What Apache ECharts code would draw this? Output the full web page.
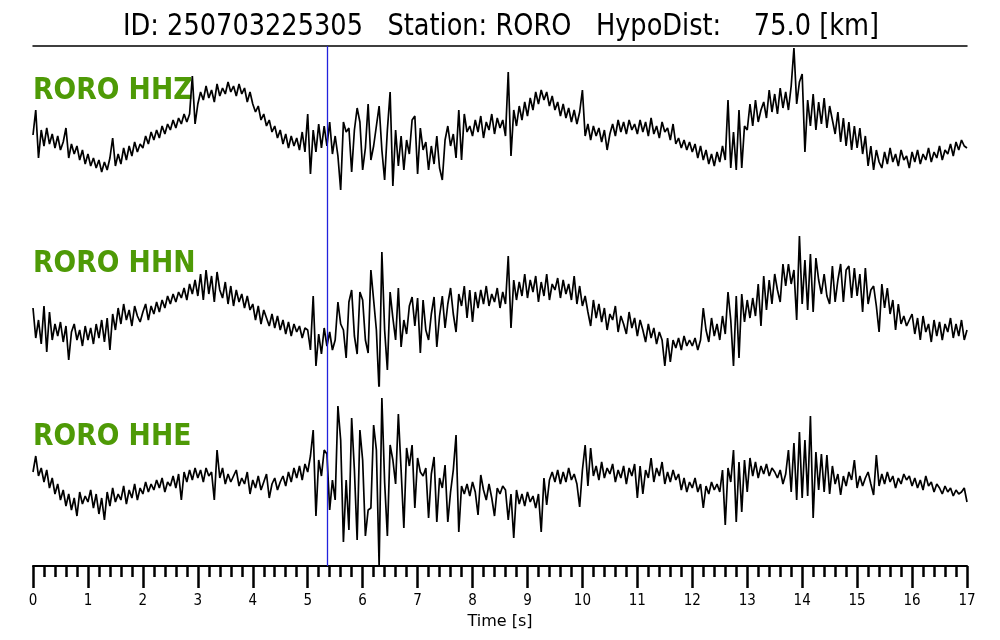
<!DOCTYPE html>
<html>
<head>
<meta charset="utf-8">
<script src="https://cdn.jsdelivr.net/npm/echarts@6/dist/echarts.min.js"></script>
<style>html,body{margin:0;padding:0;background:#fff}#c{width:1000px;height:640px}</style>
</head>
<body>
<div id="c"></div>
<script>
// Sampling interval of the traces [s]
var DT = 0.05;
var T_MAX = 17;
var P_PICK = 5.35;
var TITLE = 'ID: 250703225305   Station: RORO   HypoDist:    75.0 [km]';
var CHANNELS = ['RORO HHZ', 'RORO HHN', 'RORO HHE'];
var TICKS = [0,1,2,3,4,5,6,7,8,9,10,11,12,13,14,15,16,17];

// HHZ amplitudes (arbitrary units), one row per second
var hhz = [].concat(
[5, 30, -18, 10, -6, 12, -4, 6, -8, 4, -10, -2, 12, -18, -4, -14, -6, -20, -10, -24],
[-14, -26, -18, -28, -20, -32, -22, -30, -18, 2, -26, -14, -24, -8, -20, -6, -16, -2, -12, -4],
[-8, 4, -4, 8, 0, 10, 2, 14, 6, 16, 10, 20, 12, 22, 16, 26, 18, 26, 64, 16],
[36, 48, 40, 54, 42, 50, 38, 56, 44, 52, 46, 58, 48, 54, 44, 56, 46, 52, 38, 48],
[36, 28, 34, 20, 26, 14, 20, 8, 14, 2, 10, -4, 6, -8, 4, -6, 2, -10, 8, -12],
[26, -34, 10, -12, 16, -8, 14, -6, 18, -14, 4, -16, -50, 18, 8, 12, -32, 10, 32, 18],
[-30, -8, 36, -20, -6, 14, 34, -10, -40, 10, 48, -46, 10, -26, 4, -30, 0, -14, 20, 24],
[-34, 12, -10, -2, -30, -6, -24, 4, -28, -40, 0, 14, -6, 6, -18, 30, -20, 26, 8, 14],
[4, 20, 8, 24, 2, 18, 10, 26, 6, 22, 12, 20, 4, 68, -16, 30, 14, 34, 20, 38],
[24, 42, 30, 48, 36, 50, 40, 48, 34, 44, 30, 38, 24, 36, 22, 32, 18, 30, 16, 28],
[50, 4, 16, 0, 14, 4, 12, -2, 10, -10, 6, 16, 4, 20, 8, 18, 6, 20, 10, 16],
[6, 20, 8, 18, 4, 22, 6, 14, 2, 18, 8, 12, 0, 16, -4, 2, -8, 0, -10, -2],
[-12, -4, -18, -6, -20, -10, -24, -14, -26, -12, -22, -6, -20, 40, -28, 8, -30, 30, -28, 14],
[10, 36, 14, 40, 18, 30, 38, 22, 50, 28, 46, 26, 52, 32, 48, 30, 54, 92, 36, 58],
[66, -12, 40, 14, 46, 10, 38, 16, 42, 12, 34, 20, 6, 28, -2, 22, -6, 18, -10, 14],
[-8, 12, -14, 4, -26, -6, -30, -10, -22, -28, -12, -24, -8, -22, -14, -26, -10, -20, -16, -28],
[-12, -22, -10, -24, -14, -20, -8, -22, -12, -18, -6, -20, -10, -14, -4, -16, -2, -10, 0, -6, -8]
);

// HHN amplitudes
var hhn = [].concat(
[2, -28, -10, -34, 4, -42, -2, -30, -14, -26, -12, -32, -16, -50, -22, -14, -30, -20, -36, -16],
[-30, -18, -34, -14, -28, -10, -32, -8, -40, -4, -20, 2, -14, 6, -10, 0, -16, 4, -6, -12],
[-2, 6, -10, 4, -4, 8, -2, 10, 2, 14, 6, 16, 8, 18, 12, 22, 10, 26, 16, 30],
[14, 36, 10, 40, 16, 34, 8, 38, 20, 12, 28, 6, 24, 4, 20, 8, 16, 2, 14, 0],
[6, -10, 4, -14, 0, -8, -16, -4, -18, -6, -20, -10, -24, -12, -26, -14, -22, -16, -28, -18],
[-20, -40, 14, -56, -24, -44, -18, -36, -22, -40, -30, 8, -14, -20, -48, 8, 20, -26, -44, 18],
[10, -30, -43, 40, 10, -20, -82, 58, -20, -60, 18, -8, -30, 22, -37, -10, -24, 4, 13, -16],
[12, -43, 10, -20, -30, -4, 13, -37, -6, 14, -18, 6, 22, -4, -22, 16, 4, 24, -8, 20],
[-12, 18, 2, 20, 6, 24, 4, 16, 8, 22, 2, 18, 6, 54, -18, 30, 10, 28, 14, 36],
[12, 30, 18, 34, 8, 28, 14, 36, 10, 26, 20, 32, 12, 30, 16, 26, 10, 34, 6, 24],
[4, 14, -2, -16, 10, -8, 6, -12, 2, -20, -4, -10, 4, -22, -6, -14, -24, -2, -18, -8],
[-26, -10, -20, -32, -14, -28, -18, -34, -22, -30, -56, -28, -52, -30, -38, -28, -40, -26, -36, -30],
[-36, -28, -40, -30, 2, -20, -32, -8, -26, -14, -30, -6, -24, 18, -10, -56, 14, -48, 16, -12],
[10, -8, 12, -6, 26, -16, 34, 0, 30, 6, 36, 20, 8, 46, 24, 46, 26, 40, -10, 74],
[6, 50, 0, 56, -2, 52, 30, 16, 36, 14, 6, 44, 8, 30, 46, 8, 40, 44, 12, 42],
[14, 36, -2, 42, 6, 20, 24, 4, -22, 26, 2, 22, -4, 10, -20, 6, -14, -6, -16, -10],
[-4, -24, -8, -30, -6, -22, -14, -32, -10, -26, -12, -30, -14, -22, -8, -28, -14, -26, -10, -30, -20]
);

// HHE amplitudes
var hhe = [].concat(
[8, 24, 4, 12, -2, 10, -8, 2, -14, -4, -20, -10, -26, -14, -30, -18, -36, -12, -24, -16],
[-22, -10, -28, -14, -34, -18, -40, -12, -26, -8, -22, -14, -20, -6, -24, -10, -18, -4, -20, -8],
[-14, -2, -12, -4, -10, 0, -8, 2, -12, -2, -6, 4, -8, 6, -20, 8, -2, 10, 0, 12],
[2, 10, -2, 12, 4, 8, -20, 30, 2, 12, -4, 6, -2, 4, 10, -6, 2, -4, 8, -14],
[0, -8, 4, -10, -2, 6, -18, -4, 2, -10, -2, 4, -6, 8, -2, 12, 2, 14, 0, 16],
[8, 24, 50, -36, 20, 4, 30, 26, -30, 0, -20, 74, 40, -62, 0, -50, 62, 10, -60, 50],
[20, -56, -30, -28, 55, 30, -86, 82, -2, -56, 35, 20, -4, 66, 10, -48, 32, 14, 35, -28],
[22, 8, 4, 12, -38, 6, 23, -42, 2, -8, 15, -42, -12, 10, 45, -52, -6, -14, -4, -16],
[-2, -12, -35, 5, -10, -20, -4, -18, -36, -8, -14, -6, -10, -40, -14, -58, -10, -24, -14, -26],
[-12, -22, -16, -28, -14, -52, 2, -25, 0, 8, -2, 10, -4, 8, -2, 12, 0, 6, -4, -27],
[10, 35, -6, 32, 4, 14, 0, 18, 2, 12, 6, 16, -2, 10, 2, 14, -4, 12, 4, 16],
[-18, 14, -14, 10, 2, 22, -2, 12, 4, 18, -4, 8, -2, 10, 0, 6, -10, 2, -12, -2],
[-8, 2, -12, -4, -28, -6, -14, -2, -10, -4, -12, 10, -45, 12, -2, 30, -42, 18, -32, 20],
[-12, 22, 4, 18, 2, 14, 6, 16, 4, 12, 8, 2, 10, -4, 6, 30, -12, 37, -20, 48],
[-18, 40, -16, 64, -38, 28, -10, 26, -12, 25, -14, 14, -4, 6, -15, 4, -6, 8, 0, 20],
[-8, 4, -6, 2, 8, -4, -15, 25, -6, 6, -4, 8, -2, 4, -8, 2, -4, 6, 0, 4],
[-6, 2, -8, 0, -10, 4, -6, -2, -12, -4, -8, -14, -6, -12, -8, -16, -10, -14, -12, -8, -22]
);

function pairs(arr) {
  return arr.map(function (v, i) { return [+(i * DT).toFixed(2), v]; });
}

var chart = echarts.init(document.getElementById('c'), null, {renderer: 'canvas'});
var GREEN = '#4e9a06';

function hiddenX(gi) {
  return {gridIndex: gi, type: 'value', min: 0, max: T_MAX, show: false};
}
function hiddenY(gi, mn, mx) {
  return {gridIndex: gi, type: 'value', min: mn, max: mx, show: false};
}
function trace(idx, data) {
  return {
    type: 'line', xAxisIndex: idx, yAxisIndex: idx, data: pairs(data),
    showSymbol: false, symbol: 'none', animation: false, silent: true,
    lineStyle: {color: '#000', width: 1.7}, clip: true
  };
}
function label(text, y, font, color, sx, align) {
  return {type: 'text', x: align === 'center' ? 501 : 33, y: y, scaleX: sx, silent: true,
    style: {text: text, font: font, fill: color, textAlign: align, textVerticalAlign: 'middle'}};
}

var option = {
  backgroundColor: '#fff',
  animation: false,
  graphic: [
    label(TITLE, 27, 'normal 30px "DejaVu Sans"', '#000', 0.855, 'center'),
    label(CHANNELS[0], 91, 'bold 30px "DejaVu Sans"', GREEN, 0.888, 'left'),
    label(CHANNELS[1], 264, 'bold 30px "DejaVu Sans"', GREEN, 0.888, 'left'),
    label(CHANNELS[2], 437, 'bold 30px "DejaVu Sans"', GREEN, 0.888, 'left')
  ],
  grid: [
    {left: 33, right: 33, top: 46, height: 170},
    {left: 33, right: 33, top: 216, height: 170},
    {left: 33, right: 33, top: 386, height: 180},
    {left: 33, right: 33, top: 46, height: 520}
  ],
  xAxis: [
    {gridIndex: 0, type: 'value', min: 0, max: T_MAX, position: 'top',
     axisLine: {show: true, onZero: false, lineStyle: {color: '#000', width: 1.5}},
     axisTick: {show: false}, axisLabel: {show: false}, splitLine: {show: false}},
    hiddenX(1),
    hiddenX(2),
    {gridIndex: 3, type: 'value', min: 0, max: T_MAX, interval: 1, position: 'bottom',
     axisLine: {show: true, onZero: false, lineStyle: {color: '#000', width: 2}},
     axisTick: {show: true, inside: false, length: 22, lineStyle: {color: '#000', width: 2.5}},
     minorTick: {show: true, splitNumber: 5, length: 11, lineStyle: {color: '#000', width: 2.5}},
     axisLabel: {show: true, margin: 28, color: '#000', fontFamily: '"DejaVu Sans Condensed", "DejaVu Sans"', fontSize: 15,
       formatter: function (v) { return TICKS.indexOf(v) >= 0 ? String(v) : ''; }},
     splitLine: {show: false}, minorSplitLine: {show: false},
     name: 'Time [s]', nameLocation: 'middle', nameGap: 42,
     nameTextStyle: {color: '#000', fontFamily: 'DejaVu Sans', fontSize: 16}}
  ],
  yAxis: [
    hiddenY(0, -76, 94),
    hiddenY(1, -76, 94),
    hiddenY(2, -86, 94),
    hiddenY(3, 0, 1)
  ],
  series: [
    trace(0, hhz),
    trace(1, hhn),
    trace(2, hhe),
    {type: 'line', xAxisIndex: 3, yAxisIndex: 3, data: [], silent: true,
     markLine: {symbol: ['none', 'none'], silent: true, animation: false,
       label: {show: false}, lineStyle: {color: '#2222dd', width: 1.3, type: 'solid'},
       data: [{xAxis: P_PICK}]}}
  ]
};
chart.setOption(option);
</script>
</body>
</html>
